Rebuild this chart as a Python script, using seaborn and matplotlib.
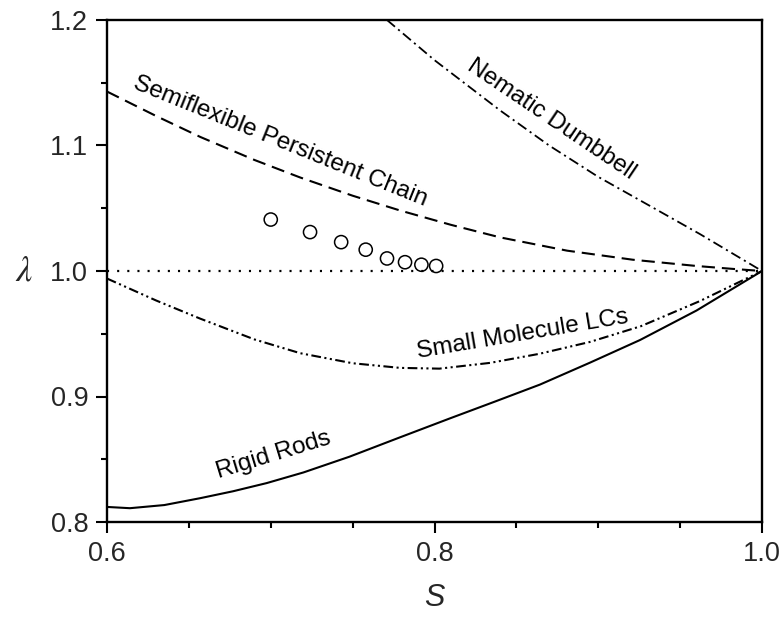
import matplotlib
matplotlib.use("Agg")
import matplotlib.pyplot as plt
from matplotlib.ticker import MultipleLocator
import seaborn as sns

# Order parameter S and shape factor lambda for the model curves
s_semiflex = [0.600, 0.630, 0.657, 0.690, 0.718, 0.750, 0.779, 0.810, 0.840,
              0.881, 0.921, 0.960, 0.982, 1.000]
lam_semiflex = [1.143, 1.1235, 1.1068, 1.0885, 1.0745, 1.0600, 1.0482, 1.0368,
                1.0268, 1.0162, 1.0090, 1.0040, 1.0017, 1.000]

s_dumbbell = [0.771, 0.800, 0.840, 0.870, 0.900, 0.930, 0.962, 1.000]
lam_dumbbell = [1.200, 1.168, 1.128, 1.100, 1.075, 1.053, 1.0295, 1.000]

s_small = [0.600, 0.630, 0.657, 0.690, 0.718, 0.750, 0.779, 0.803, 0.834,
           0.864, 0.895, 0.926, 0.962, 1.000]
lam_small = [0.994, 0.9765, 0.962, 0.9455, 0.9345, 0.9265, 0.9228, 0.9222,
             0.9268, 0.9340, 0.9435, 0.9560, 0.9760, 1.000]

s_rods = [0.600, 0.614, 0.635, 0.657, 0.677, 0.6975, 0.720, 0.748, 0.778,
          0.8095, 0.837, 0.8644, 0.895, 0.9255, 0.960, 1.000]
lam_rods = [0.812, 0.811, 0.8135, 0.819, 0.8245, 0.831, 0.8395, 0.852, 0.867,
            0.8826, 0.8960, 0.9095, 0.9270, 0.945, 0.9685, 1.000]

s_isotropic = [0.6, 1.0]
lam_isotropic = [1.0, 1.0]

# Measured points
s_meas = [0.700, 0.724, 0.743, 0.758, 0.771, 0.782, 0.792, 0.801]
lam_meas = [1.041, 1.031, 1.023, 1.017, 1.010, 1.007, 1.005, 1.004]

x_ticks = [0.6, 0.8, 1.0]
y_ticks = [0.8, 0.9, 1.0, 1.1, 1.2]

sns.set_theme(style="ticks")
plt.rcParams["font.family"] = ["Liberation Sans", "DejaVu Sans"]
plt.rcParams["mathtext.fontset"] = "stix"
plt.rcParams["lines.scale_dashes"] = False

fig = plt.figure(figsize=(7.84, 6.17), dpi=100)
ax = fig.add_axes([107 / 784, 1 - 522 / 617, (762 - 107) / 784, (522 - 20) / 617])

lw = 1.5
sns.lineplot(x=s_rods, y=lam_rods, ax=ax, color="black", lw=lw,
             estimator=None, sort=False)
sns.lineplot(x=s_semiflex, y=lam_semiflex, ax=ax, color="black", lw=lw,
             estimator=None, sort=False, linestyle=(0, (9.5, 5.0)))
sns.lineplot(x=s_dumbbell, y=lam_dumbbell, ax=ax, color="black", lw=1.3,
             estimator=None, sort=False, linestyle=(0, (7.5, 3.0, 1.5, 3.0)))
sns.lineplot(x=s_small, y=lam_small, ax=ax, color="black", lw=lw,
             estimator=None, sort=False,
             linestyle=(0, (7.0, 2.5, 1.5, 2.5, 1.5, 2.5)))
sns.lineplot(x=s_isotropic, y=lam_isotropic, ax=ax, color="black", lw=1.6,
             estimator=None, sort=False, linestyle=(0, (1.5, 5.8)))
sns.scatterplot(x=s_meas, y=lam_meas, ax=ax, marker="o", s=90,
                facecolor="none", edgecolor="black", linewidth=1.1, zorder=3)

ax.set_xlim(0.6, 1.0)
ax.set_ylim(0.8, 1.2)
ax.set_xticks(x_ticks)
ax.set_yticks(y_ticks)
ax.set_xticklabels([f"{v:.1f}" for v in x_ticks])
ax.set_yticklabels([f"{v:.1f}" for v in y_ticks])
ax.xaxis.set_minor_locator(MultipleLocator(0.05))
ax.yaxis.set_minor_locator(MultipleLocator(0.05))
ax.tick_params(which="both", direction="out", width=1.5, color="black",
               top=False, right=False)
ax.tick_params(which="major", length=8, labelsize=19.5, pad=5.5)
ax.tick_params(which="minor", length=4.5)
for side in ax.spines.values():
    side.set_visible(True)
    side.set_linewidth(1.7)
    side.set_color("black")

ax.set_xlabel("S", fontsize=22, fontstyle="italic", labelpad=12)
ax.set_ylabel(r"$\lambda$", fontsize=26, rotation=0, labelpad=19, va="center")

label_kw = dict(fontsize=17.5, ha="center", va="baseline", rotation_mode="anchor",
                color="black")
ax.text(0.7046, 1.0984, "Semiflexible Persistent Chain", rotation=-22, **label_kw)
ax.text(0.8695, 1.117, "Nematic Dumbbell", rotation=-34, **label_kw)
ax.text(0.8542, 0.945, "Small Molecule LCs", rotation=9.5, **label_kw)
ax.text(0.7026, 0.8488, "Rigid Rods", rotation=17, **label_kw)

fig.savefig("out.png", dpi=100)
